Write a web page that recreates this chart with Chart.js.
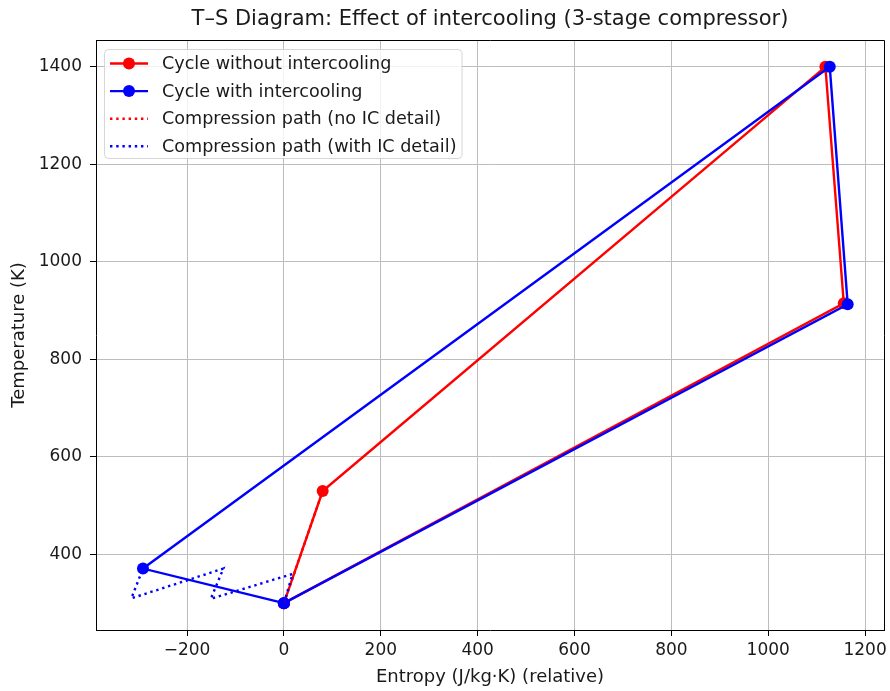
<!DOCTYPE html>
<html>
<head>
<meta charset="utf-8">
<title>T-S Diagram</title>
<script src="https://cdn.jsdelivr.net/npm/chart.js@4.4.1/dist/chart.umd.min.js"></script>
<style>
    html, body { margin: 0; padding: 0; background: #fff; }
    #wrap { width: 890px; height: 691px; }
</style>
</head>
<body>
<div id="wrap"><canvas id="tsChart" width="890" height="691"></canvas></div>
<script>
// --- Data (entropy in J/kg·K relative, temperature in K) ---
const noIcS = [0, 80, 1118, 1156, 0];
const noIcT = [300, 530, 1400, 915, 300];

const icS = [0, -291, 1127, 1164, 0];
const icT = [300, 371, 1400, 913, 300];

// compression detail paths (dotted)
const noIcPathS = [0, 80];
const noIcPathT = [300, 530];

const icPathS = [0, 18, -151, -125, -315, -291];
const icPathT = [300, 360, 309, 371, 310, 371];

const xTicks = [-200, 0, 200, 400, 600, 800, 1000, 1200];
const yTicks = [400, 600, 800, 1000, 1200, 1400];

const labels = [
    'Cycle without intercooling',
    'Cycle with intercooling',
    'Compression path (no IC detail)',
    'Compression path (with IC detail)'
];
const chartTitle = 'T\u2013S Diagram: Effect of intercooling (3-stage compressor)';

const FONT = "'DejaVu Sans', sans-serif";
const TEXT = '#1a1a1a';
const GRID = '#bdbdbd';

function toPoints(xs, ys) {
    return xs.map((x, i) => ({ x: x, y: ys[i] }));
}

function fmtTick(v) {
    return String(v).replace('-', '\u2212');
}

// frame: top + right spines (bottom/left are axis borders), title centred over the axes
const framePlugin = {
    id: 'frame',
    afterDatasetsDraw(chart) {
        const { ctx, chartArea: a } = chart;
        ctx.save();
        ctx.strokeStyle = '#000';
        ctx.lineWidth = 1;
        ctx.beginPath();
        ctx.moveTo(a.left, a.top + 0.5);
        ctx.lineTo(a.right + 0.5, a.top + 0.5);
        ctx.lineTo(a.right + 0.5, a.bottom);
        ctx.stroke();

        ctx.fillStyle = TEXT;
        ctx.font = '21px ' + FONT;
        ctx.textAlign = 'center';
        ctx.textBaseline = 'middle';
        ctx.fillText(chartTitle, (a.left + a.right) / 2, a.top - 20);
        ctx.restore();
    }
};

// matplotlib-like legend in the upper left of the plot
const legendPlugin = {
    id: 'mplLegend',
    afterDraw(chart) {
        const { ctx, chartArea: a } = chart;
        const sets = chart.data.datasets;
        ctx.save();
        ctx.font = '17.6px ' + FONT;
        let maxW = 0;
        sets.forEach(d => { maxW = Math.max(maxW, ctx.measureText(d.label).width); });

        const bx = a.left + 8, by = a.top + 9;
        const bw = 58 + maxW + 5, bh = 109;
        ctx.beginPath();
        ctx.roundRect(bx + 0.5, by + 0.5, bw, bh, 4);
        ctx.fillStyle = 'rgba(255,255,255,0.8)';
        ctx.fill();
        ctx.strokeStyle = 'rgba(204,204,204,0.8)';
        ctx.lineWidth = 1;
        ctx.stroke();

        sets.forEach((d, i) => {
            const y = by + 14.5 + i * 27.6;
            const x0 = bx + 6, x1 = bx + 44;
            ctx.strokeStyle = d.borderColor;
            ctx.lineWidth = d.borderWidth;
            ctx.setLineDash(d.borderDash || []);
            ctx.beginPath();
            ctx.moveTo(x0, y);
            ctx.lineTo(x1, y);
            ctx.stroke();
            ctx.setLineDash([]);
            if (d.pointRadius > 0) {
                ctx.fillStyle = d.borderColor;
                ctx.beginPath();
                ctx.arc((x0 + x1) / 2, y, d.pointRadius, 0, Math.PI * 2);
                ctx.fill();
            }
            ctx.fillStyle = TEXT;
            ctx.textBaseline = 'middle';
            ctx.fillText(d.label, bx + 58, y + 1);
        });
        ctx.restore();
    }
};

function cycleSet(label, xs, ys, color, order) {
    return {
        label: label,
        data: toPoints(xs, ys),
        showLine: true,
        borderColor: color,
        backgroundColor: color,
        borderWidth: 2.4,
        pointRadius: 6,
        pointHoverRadius: 6,
        pointBorderWidth: 0,
        order: order
    };
}

function pathSet(label, xs, ys, color, order) {
    return {
        label: label,
        data: toPoints(xs, ys),
        showLine: true,
        borderColor: color,
        backgroundColor: color,
        borderWidth: 2.4,
        borderDash: [2.4, 3.8],
        pointRadius: 0,
        order: order
    };
}

const ctx = document.getElementById('tsChart').getContext('2d');
new Chart(ctx, {
    type: 'scatter',
    data: {
        datasets: [
            cycleSet(labels[0], noIcS, noIcT, '#ff0000', 4),
            cycleSet(labels[1], icS, icT, '#0000ff', 3),
            pathSet(labels[2], noIcPathS, noIcPathT, '#ff0000', 2),
            pathSet(labels[3], icPathS, icPathT, '#0000ff', 1)
        ]
    },
    options: {
        responsive: false,
        animation: false,
        layout: { padding: { left: 0, right: 3, top: 40, bottom: 0 } },
        elements: { line: { tension: 0 } },
        plugins: {
            legend: { display: false },
            tooltip: { enabled: false },
            title: { display: false }
        },
        scales: {
            x: {
                type: 'linear',
                min: -388,
                max: 1239,
                afterBuildTicks: s => { s.ticks = xTicks.map(v => ({ value: v })); },
                afterFit: s => { s.height = 61; s.paddingLeft = 0; s.paddingRight = 0; },
                ticks: {
                    color: TEXT,
                    font: { family: FONT, size: 17 },
                    padding: 4,
                    maxRotation: 0,
                    callback: v => fmtTick(v)
                },
                grid: { color: GRID, lineWidth: 1, tickColor: '#000', tickLength: 6 },
                border: { display: true, color: '#000', width: 1 },
                title: {
                    display: true,
                    text: 'Entropy (J/kg\u00b7K) (relative)',
                    color: TEXT,
                    font: { family: FONT, size: 18, lineHeight: 1.2 },
                    padding: { top: 0, bottom: 3 }
                }
            },
            y: {
                type: 'linear',
                min: 245,
                max: 1455,
                afterBuildTicks: s => { s.ticks = yTicks.map(v => ({ value: v })); },
                afterFit: s => { s.width = 96; s.paddingTop = 0; s.paddingBottom = 0; },
                ticks: {
                    color: TEXT,
                    font: { family: FONT, size: 17 },
                    padding: 8,
                    callback: v => fmtTick(v)
                },
                grid: { color: GRID, lineWidth: 1, tickColor: '#000', tickLength: 6 },
                border: { display: true, color: '#000', width: 1 },
                title: {
                    display: true,
                    text: 'Temperature (K)',
                    color: TEXT,
                    font: { family: FONT, size: 18, lineHeight: 1.2 },
                    padding: { top: 9, bottom: 0 }
                }
            }
        }
    },
    plugins: [framePlugin, legendPlugin]
});
</script>
</body>
</html>
